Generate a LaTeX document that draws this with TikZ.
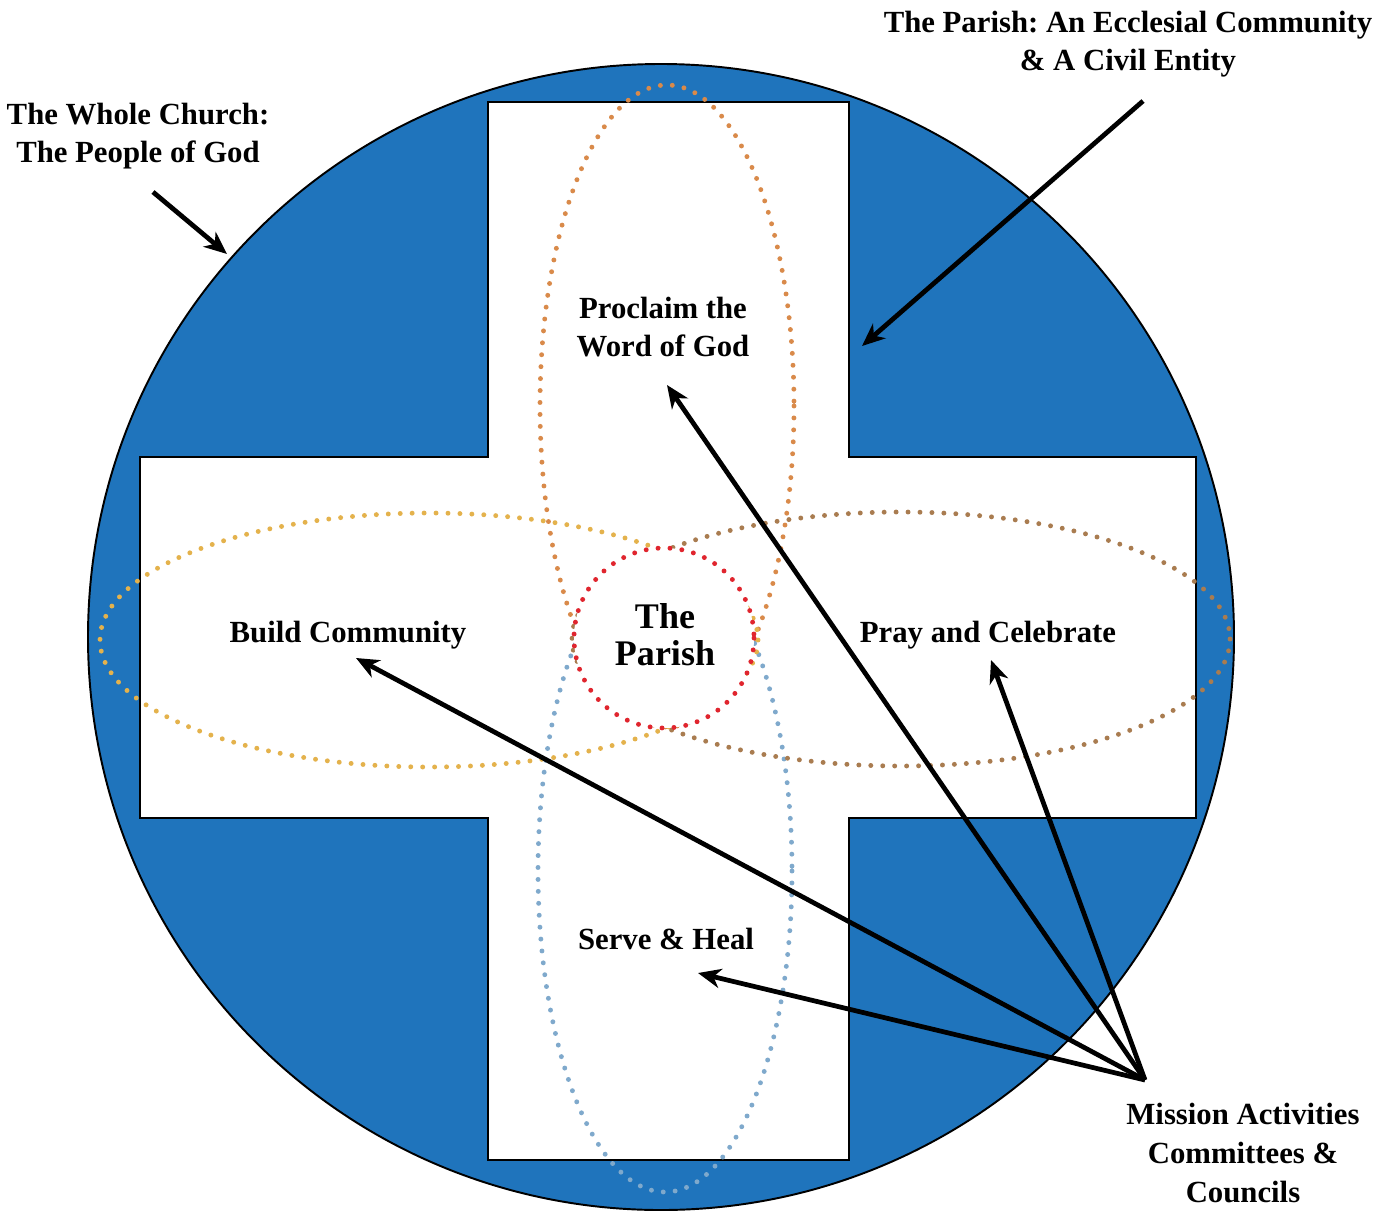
\documentclass[tikz,border=0pt]{standalone}
\usepackage{fontspec}
\setmainfont{Liberation Serif}
\usetikzlibrary{arrows.meta}
\frenchspacing

\definecolor{churchblue}{HTML}{1F74BC}
\definecolor{dotorange}{HTML}{D98A4A}
\definecolor{dotyellow}{HTML}{E4B24C}
\definecolor{dotbrown}{HTML}{A97C50}
\definecolor{dotblue}{HTML}{7FA9CC}
\definecolor{dotred}{HTML}{E0252E}

\begin{document}
\begin{tikzpicture}[
	x=0.02cm, y=-0.02cm,
	label/.style={ font=\bfseries\fontsize{17.5}{22}\selectfont, align=center, inner sep=0pt },
	biglabel/.style={ font=\bfseries\fontsize{20.5}{21}\selectfont, align=center, inner sep=0pt },
	pointer/.style={ line width=2.7pt, -{Stealth[length=13pt,width=11pt,inset=4pt]} },
	dotline/.style={ line width=2.8pt, line cap=round, dash pattern=on 0pt off 6.8pt }
]
\useasboundingbox (0,0) rectangle (1388,1220);

% whole church and the cross
\draw[fill=churchblue, line width=1.1pt] (661,637) circle[radius=573];
\draw[fill=white, line width=1.1pt]
	(488,102) -- (849,102) -- (849,457) -- (1196,457) -- (1196,818) -- (849,818)
	-- (849,1160) -- (488,1160) -- (488,818) -- (140,818) -- (140,457) -- (488,457) -- cycle;

% the four missions, meeting under the parish
\draw[dotline, dotorange] (667,406) ellipse[x radius=127, y radius=321];
\draw[dotline, dotblue] (665,871) ellipse[x radius=127, y radius=321];
\draw[dotline, dotyellow] (429,640) ellipse[x radius=329, y radius=127];
\draw[dotline, dotbrown] (901,639) ellipse[x radius=329, y radius=127];
\draw[dotline, dotred, fill=white] (664,638) circle[radius=90];

% texts
\node (parish) at (665,635) [biglabel] {The\\Parish};
\node (proclaim) at (663,327) [label] {Proclaim the\\Word of God};
\node (build) at (348,635) [label] {Build Community};
\node (pray) at (988,635) [label] {Pray and Celebrate};
\node (serve) at (666,939) [label] {Serve \& Heal};
\node (church) at (138,136) [label] {The Whole Church:\\The People of God};
\node (entity) at (1128,44) [label] {The Parish: An Ecclesial Community\\\& A Civil Entity};
\node (mission) at (1243,1153) [label] {Mission Activities\\Committees \&\\Councils};

% arrow ends
\coordinate (hub) at (1145,1080);
\coordinate (churchtail) at (153,192);
\coordinate (churchtip) at (227,254);
\coordinate (entitytail) at (1143,101);
\coordinate (entitytip) at (862,346);
\coordinate (proclaimtip) at (667,385);
\coordinate (buildtip) at (356,658);
\coordinate (praytip) at (991,660);
\coordinate (servetip) at (698,973);

\draw[pointer] (churchtail) to (churchtip);
\draw[pointer] (entitytail) to (entitytip);
\draw[pointer] (hub) to (proclaimtip);
\draw[pointer] (hub) to (buildtip);
\draw[pointer] (hub) to (praytip);
\draw[pointer] (hub) to (servetip);

\end{tikzpicture}
\end{document}
